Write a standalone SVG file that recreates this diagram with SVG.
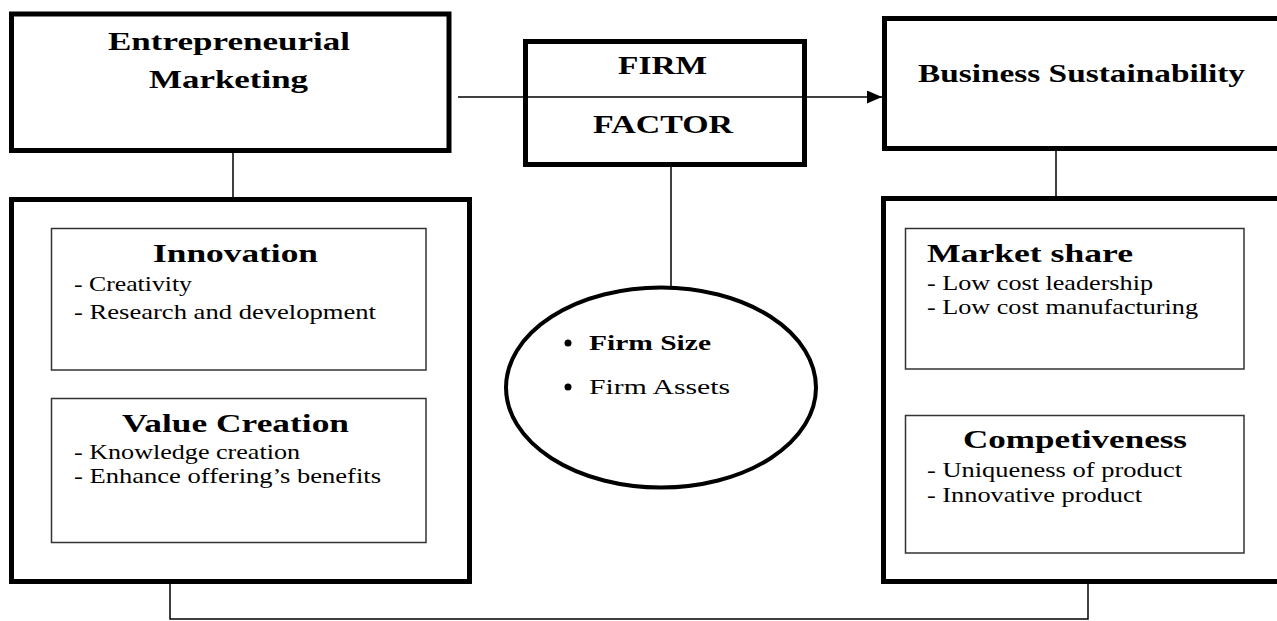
<svg xmlns="http://www.w3.org/2000/svg" width="1277" height="621" viewBox="0 0 1277 621">
<style>
.thick{fill:#fff;stroke:#000;stroke-width:5}
.thin{fill:#fff;stroke:#333;stroke-width:1.5}
.conn{fill:none;stroke:#000;stroke-width:1.5}
.h{font-family:"Liberation Serif","Times New Roman",serif;font-weight:bold;font-size:26px;fill:#000}
.b{font-family:"Liberation Serif","Times New Roman",serif;font-size:21px;fill:#000}
.bb{font-family:"Liberation Serif","Times New Roman",serif;font-weight:bold;font-size:21px;fill:#000}
</style>
<defs>
<marker id="arr" markerWidth="15" markerHeight="13" refX="15" refY="6.5" orient="auto" markerUnits="userSpaceOnUse">
<polygon points="0,0 15,6.5 0,13" fill="#000"/>
</marker>
</defs>
<rect width="1277" height="621" fill="#fff"/>
<g id="em">
<rect class="thick" x="11.5" y="14" width="437.5" height="136.5"/>
<text class="h" x="108" y="50" textLength="242" lengthAdjust="spacingAndGlyphs">Entrepreneurial</text>
<text class="h" x="149" y="88" textLength="159" lengthAdjust="spacingAndGlyphs">Marketing</text>
</g>
<g id="em-detail">
<rect class="thick" x="11.5" y="199.5" width="458" height="382"/>
</g>
<g id="innovation">
<rect class="thin" x="51.5" y="228.5" width="374.5" height="141.5"/>
<text class="h" x="153" y="262" textLength="165" lengthAdjust="spacingAndGlyphs">Innovation</text>
<text class="b" x="74" y="291" textLength="118" lengthAdjust="spacingAndGlyphs">- Creativity</text>
<text class="b" x="74" y="319" textLength="302" lengthAdjust="spacingAndGlyphs">- Research  and  development</text>
</g>
<g id="value-creation">
<rect class="thin" x="51.5" y="398.5" width="374.5" height="144"/>
<text class="h" x="122" y="432" textLength="227" lengthAdjust="spacingAndGlyphs">Value Creation</text>
<text class="b" x="74" y="459" textLength="226" lengthAdjust="spacingAndGlyphs">- Knowledge  creation</text>
<text class="b" x="74" y="483" textLength="307" lengthAdjust="spacingAndGlyphs">- Enhance offering’s benefits</text>
</g>
<g id="firm-factor">
<rect class="thick" x="525.5" y="41.5" width="279" height="123"/>
<text class="h" x="618" y="74" textLength="89" lengthAdjust="spacingAndGlyphs">FIRM</text>
<text class="h" x="593" y="133" textLength="140" lengthAdjust="spacingAndGlyphs">FACTOR</text>
</g>
<g id="firm-items">
<ellipse cx="661" cy="387.5" rx="155" ry="100" fill="#fff" stroke="#000" stroke-width="4"/>
<circle cx="568" cy="343" r="3.5" fill="#000"/>
<text class="bb" x="589" y="350" textLength="122" lengthAdjust="spacingAndGlyphs">Firm Size</text>
<circle cx="568" cy="387" r="3.5" fill="#000"/>
<text class="b" x="589" y="394" textLength="141" lengthAdjust="spacingAndGlyphs">Firm Assets</text>
</g>
<g id="bs">
<rect class="thick" x="884.5" y="18.5" width="420" height="130"/>
<text class="h" x="918" y="82" textLength="327" lengthAdjust="spacingAndGlyphs">Business Sustainability</text>
</g>
<g id="bs-detail">
<rect class="thick" x="883.5" y="198.5" width="420" height="383"/>
</g>
<g id="market-share">
<rect class="thin" x="905.5" y="228.5" width="338.5" height="140.5"/>
<text class="h" x="927" y="262" textLength="206" lengthAdjust="spacingAndGlyphs">Market share</text>
<text class="b" x="927" y="290" textLength="226" lengthAdjust="spacingAndGlyphs">- Low cost leadership</text>
<text class="b" x="927" y="314" textLength="271" lengthAdjust="spacingAndGlyphs">- Low cost manufacturing</text>
</g>
<g id="competiveness">
<rect class="thin" x="905.5" y="415.5" width="338.5" height="137.5"/>
<text class="h" x="963" y="448" textLength="224" lengthAdjust="spacingAndGlyphs">Competiveness</text>
<text class="b" x="927" y="477" textLength="255" lengthAdjust="spacingAndGlyphs">- Uniqueness  of product</text>
<text class="b" x="927" y="502" textLength="215" lengthAdjust="spacingAndGlyphs">- Innovative product</text>
</g>
<g id="connectors">
<path class="conn" d="M233 152.5 V197"/>
<path class="conn" d="M458 97 H882" marker-end="url(#arr)"/>
<path class="conn" d="M671 166.5 V286"/>
<path class="conn" d="M1056 151 V196"/>
<path class="conn" d="M170 584 V619 H1088 V584"/>
</g>
</svg>
